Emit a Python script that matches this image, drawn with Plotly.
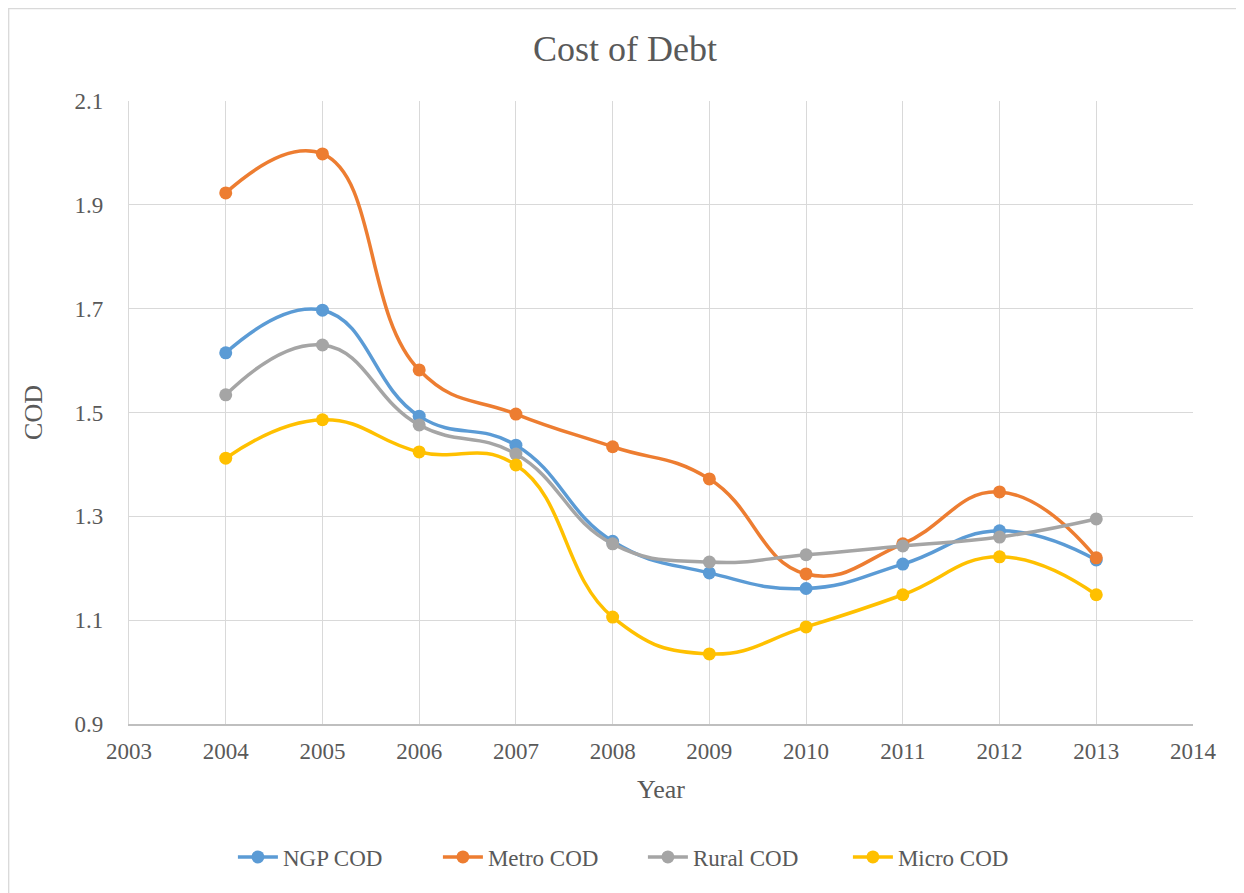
import plotly.graph_objects as go

years = [2004, 2005, 2006, 2007, 2008, 2009, 2010, 2011, 2012, 2013]
ngp_cod = [1.615, 1.697, 1.493, 1.437, 1.252, 1.191, 1.161, 1.208, 1.272, 1.216]
metro_cod = [1.923, 1.998, 1.582, 1.497, 1.434, 1.372, 1.189, 1.247, 1.347, 1.220]
rural_cod = [1.534, 1.630, 1.476, 1.420, 1.247, 1.212, 1.226, 1.243, 1.260, 1.295]
micro_cod = [1.412, 1.486, 1.424, 1.399, 1.106, 1.035, 1.087, 1.149, 1.222, 1.149]

series = [
    ("NGP COD", ngp_cod, "#5b9bd5"),
    ("Metro COD", metro_cod, "#ed7d31"),
    ("Rural COD", rural_cod, "#a5a5a5"),
    ("Micro COD", micro_cod, "#ffc000"),
]

font_family = "Liberation Serif"
text_color = "#595959"

W, H = 1236, 885
L, R, T, B = 121, 51, 93, 169
PW, PH = W - L - R, H - T - B

fig = go.Figure()
for name, vals, color in series:
    fig.add_trace(go.Scatter(
        x=years, y=vals, name=name, mode="lines+markers",
        line=dict(color=color, width=3.5, shape="spline", smoothing=1.3),
        marker=dict(color=color, size=13),
    ))

fig.update_layout(
    width=W, height=H,
    paper_bgcolor="white", plot_bgcolor="white",
    margin=dict(l=L, r=R, t=T, b=B, autoexpand=False),
    font=dict(family=font_family, color=text_color, size=23),
    title=dict(text="Cost of Debt", x=(625 - 8 - L) / PW, xref="paper", xanchor="center",
               y=1 - 40 / H, yanchor="middle",
               font=dict(size=36, color=text_color, family=font_family)),
    showlegend=True,
    legend=dict(orientation="h", x=0.483, xanchor="center",
                y=(T + PH - 849) / PH, yanchor="middle",
                font=dict(size=23, color=text_color, family=font_family),
                itemwidth=40, tracegroupgap=0,
                entrywidth=150, entrywidthmode="pixels"),
    xaxis=dict(range=[2003, 2014], dtick=1, tick0=2003, showgrid=True,
               gridcolor="#d9d9d9", gridwidth=1.3, zeroline=False,
               showline=True, linecolor="#bfbfbf", linewidth=1.5, mirror=False,
               ticks="", ticklabelstandoff=6,
               tickfont=dict(size=23, color=text_color),
               title=dict(text="Year", font=dict(size=26, color=text_color), standoff=16)),
    yaxis=dict(range=[0.9, 2.1], dtick=0.2, tick0=0.9, showgrid=True,
               gridcolor="#d9d9d9", gridwidth=1.3, zeroline=False,
               showline=True, linecolor="#d9d9d9", linewidth=1.3,
               ticks="", ticklabelstandoff=20, tickformat=".1f",
               tickfont=dict(size=23, color=text_color),
               title=dict(text="COD", font=dict(size=26, color=text_color), standoff=24)),
)

fig.add_shape(type="rect", xref="paper", yref="paper",
              x0=(0.7 - L) / PW, x1=1.2, y0=-0.4, y1=1 + (T - 0.7) / PH,
              line=dict(color="#d9d9d9", width=1.3), fillcolor="rgba(0,0,0,0)", layer="below")

fig.write_html("out.html")
